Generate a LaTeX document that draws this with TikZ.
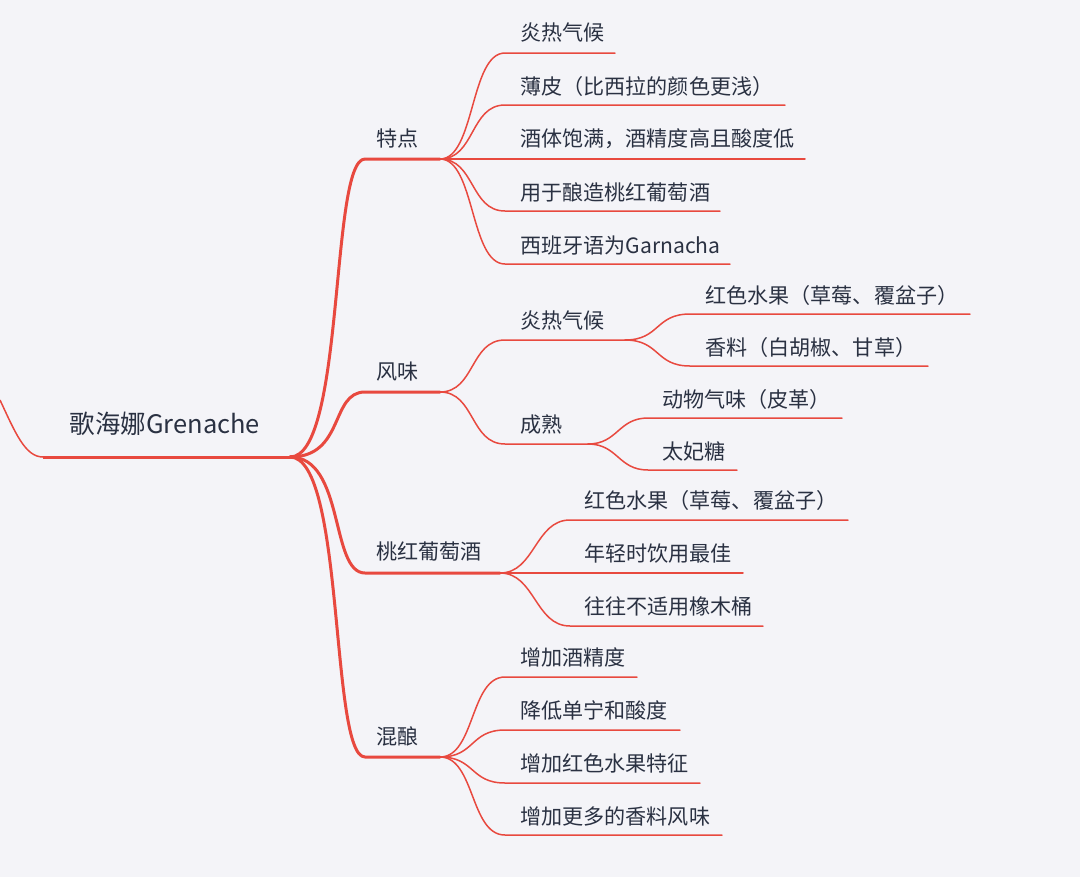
\documentclass[tikz,border=0pt]{standalone}
\usepackage{fontspec}
\setmainfont{Noto Sans CJK SC}
\newfontfamily\cjk{Noto Sans CJK SC}
\definecolor{bgc}{HTML}{F4F4F8}
\definecolor{linec}{HTML}{E8493F}
\definecolor{txtc}{HTML}{2A3142}
\tikzset{
  thick line/.style={draw=linec, line width=0.06cm, line cap=round},
  thin line/.style={draw=linec, line width=0.03cm, line cap=round},
  leaf/.style={anchor=west, inner sep=0pt, text=txtc, font=\cjk\fontsize{12}{14}\selectfont},
  rootlabel/.style={anchor=center, inner sep=0pt, text=txtc, font=\cjk\fontsize{14.5}{16}\selectfont},
  curve/.style={to path={.. controls +(#1,0) and +(-#1,0) .. (\tikztotarget)}},
  curve/.default=35
}
\begin{document}
\begin{tikzpicture}[x=0.02cm, y=-0.02cm]
\useasboundingbox (0,0) rectangle (1080,877);
\fill[bgc] (0,0) rectangle (1080,877);

% root
\coordinate (rin) at (0,400);
\coordinate (rs) at (43,457);
\coordinate (rj) at (290,457);
\node[rootlabel] (root) at (165,424) {歌海娜Grenache};
\draw[thin line, line cap=butt] (rin) .. controls (15,432) and (25,457) .. (rs);
\draw[thick line, line cap=butt] (rs) -- (rj);

% level 1
\coordinate (a1s) at (365,159); \coordinate (a1j) at (440,159);
\coordinate (a2s) at (365,392); \coordinate (a2j) at (440,392);
\coordinate (a3s) at (365,573); \coordinate (a3j) at (500,573);
\coordinate (a4s) at (365,757); \coordinate (a4j) at (440,757);
\node[leaf] (a1) at (376,138) {特点};
\node[leaf] (a2) at (376,372) {风味};
\node[leaf] (a3) at (376,552) {桃红葡萄酒};
\node[leaf] (a4) at (376,736) {混酿};
\foreach \s/\j in {a1s/a1j,a2s/a2j,a3s/a3j,a4s/a4j}{
  \draw[thick line] (rj) .. controls +(55,0) and +(-35,0) .. (\s) -- (\j);
}

% 特点 children
\coordinate (b1s) at (505,53);  \coordinate (b1e) at (615,53);
\coordinate (b2s) at (505,105); \coordinate (b2e) at (785,105);
\coordinate (b3e) at (805,159);
\coordinate (b4s) at (505,211); \coordinate (b4e) at (720,211);
\coordinate (b5s) at (505,264); \coordinate (b5e) at (730,264);
\node[leaf] (b1) at (520,33) {炎热气候};
\node[leaf] (b2) at (520,86) {薄皮（比西拉的颜色更浅）};
\node[leaf] (b3) at (520,139) {酒体饱满，酒精度高且酸度低};
\node[leaf] (b4) at (520,192) {用于酿造桃红葡萄酒};
\node[leaf] (b5) at (520,245) {西班牙语为Garnacha};
\foreach \s/\e in {b1s/b1e,b2s/b2e,b4s/b4e,b5s/b5e}{
  \draw[thin line] (a1j) to[curve] (\s) -- (\e);
}
\draw[thin line] (a1j) -- (b3e);

% 风味 children
\coordinate (c1s) at (505,340); \coordinate (c1j) at (625,340);
\coordinate (c2s) at (505,444); \coordinate (c2j) at (588,444);
\node[leaf] (c1) at (520,321) {炎热气候};
\node[leaf] (c2) at (520,425) {成熟};
\draw[thin line] (a2j) to[curve] (c1s) -- (c1j);
\draw[thin line] (a2j) to[curve] (c2s) -- (c2j);

\coordinate (d1s) at (690,314); \coordinate (d1e) at (970,314);
\coordinate (d2s) at (690,366); \coordinate (d2e) at (928,366);
\node[leaf] (d1) at (705,295) {红色水果（草莓、覆盆子）};
\node[leaf] (d2) at (705,347) {香料（白胡椒、甘草）};
\draw[thin line] (c1j) to[curve] (d1s) -- (d1e);
\draw[thin line] (c1j) to[curve] (d2s) -- (d2e);

\coordinate (e1s) at (648,418); \coordinate (e1e) at (842,418);
\coordinate (e2s) at (648,470); \coordinate (e2e) at (737,470);
\node[leaf] (e1) at (662,399) {动物气味（皮革）};
\node[leaf] (e2) at (662,451) {太妃糖};
\draw[thin line] (c2j) to[curve=30] (e1s) -- (e1e);
\draw[thin line] (c2j) to[curve=30] (e2s) -- (e2e);

% 桃红葡萄酒 children
\coordinate (f1s) at (570,520); \coordinate (f1e) at (848,520);
\coordinate (f2e) at (743,573);
\coordinate (f3s) at (570,626); \coordinate (f3e) at (763,626);
\node[leaf] (f1) at (584,500) {红色水果（草莓、覆盆子）};
\node[leaf] (f2) at (584,553) {年轻时饮用最佳};
\node[leaf] (f3) at (584,606) {往往不适用橡木桶};
\draw[thin line] (a3j) to[curve] (f1s) -- (f1e);
\draw[thin line] (a3j) -- (f2e);
\draw[thin line] (a3j) to[curve] (f3s) -- (f3e);

% 混酿 children
\coordinate (g1s) at (505,677); \coordinate (g1e) at (637,677);
\coordinate (g2s) at (505,730); \coordinate (g2e) at (680,730);
\coordinate (g3s) at (505,783); \coordinate (g3e) at (700,783);
\coordinate (g4s) at (505,835); \coordinate (g4e) at (722,835);
\node[leaf] (g1) at (520,657) {增加酒精度};
\node[leaf] (g2) at (520,710) {降低单宁和酸度};
\node[leaf] (g3) at (520,763) {增加红色水果特征};
\node[leaf] (g4) at (520,816) {增加更多的香料风味};
\foreach \s/\e in {g1s/g1e,g2s/g2e,g3s/g3e,g4s/g4e}{
  \draw[thin line] (a4j) to[curve] (\s) -- (\e);
}
\end{tikzpicture}
\end{document}
